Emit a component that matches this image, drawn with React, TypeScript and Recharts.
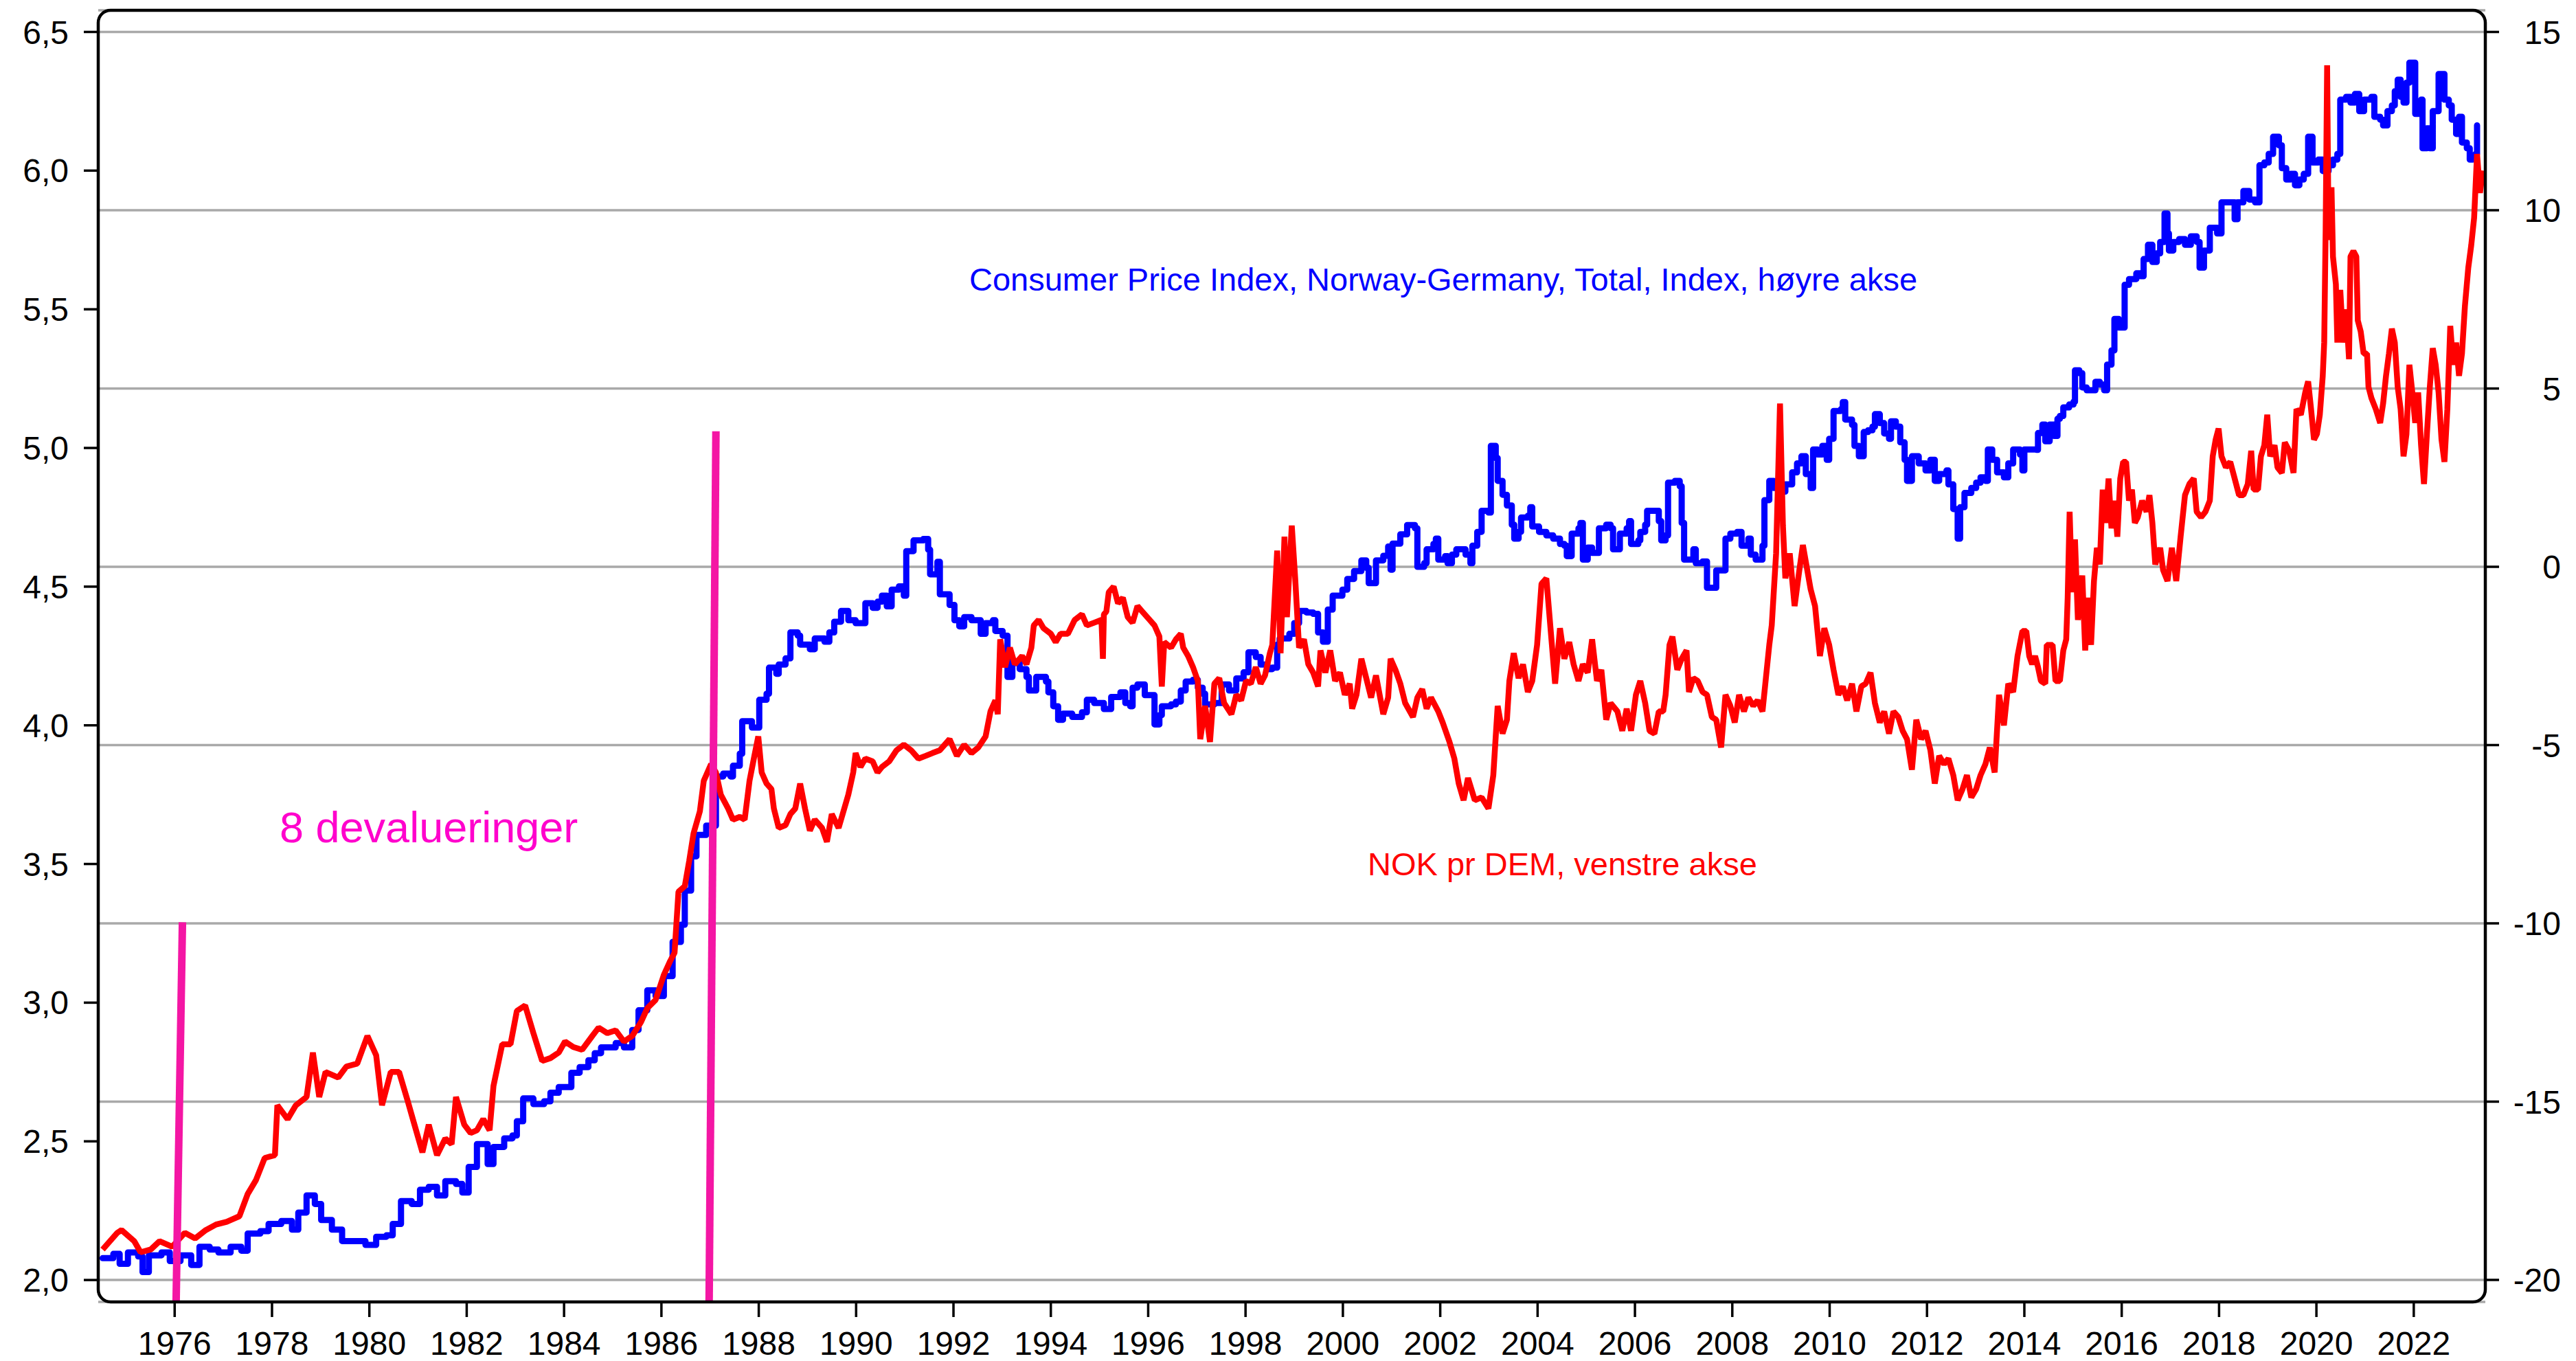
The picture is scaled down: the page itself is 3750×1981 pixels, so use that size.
import React from 'react';
import { LineChart, Line, XAxis, YAxis, CartesianGrid, ReferenceLine } from 'recharts';

const W = 3750;
const H = 1981;
const FONT = '"Liberation Sans", Arial, Helvetica, sans-serif';

// NOK per DEM, left axis: [year, value]
const NOK_PER_DEM: [number, number][] = [
  [1974.52, 2.11], [1974.82, 2.17], [1974.91, 2.18], [1975.17, 2.14], [1975.30, 2.10], [1975.51, 2.11],
  [1975.69, 2.14], [1975.95, 2.12], [1976.21, 2.17], [1976.42, 2.15], [1976.64, 2.18], [1976.85, 2.20],
  [1977.07, 2.21], [1977.33, 2.23], [1977.50, 2.31], [1977.67, 2.36], [1977.85, 2.44], [1978.06, 2.45],
  [1978.11, 2.63], [1978.32, 2.58], [1978.49, 2.63], [1978.71, 2.66], [1978.84, 2.82], [1978.97, 2.66],
  [1979.10, 2.75], [1979.36, 2.73], [1979.53, 2.77], [1979.75, 2.78], [1979.96, 2.88], [1980.14, 2.81],
  [1980.26, 2.63], [1980.44, 2.75], [1980.61, 2.75], [1980.78, 2.65], [1980.91, 2.57], [1981.09, 2.46],
  [1981.22, 2.56], [1981.39, 2.45], [1981.56, 2.51], [1981.69, 2.49], [1981.78, 2.66], [1981.95, 2.56],
  [1982.08, 2.53], [1982.21, 2.54], [1982.34, 2.58], [1982.47, 2.54], [1982.55, 2.70], [1982.73, 2.85],
  [1982.90, 2.85], [1983.03, 2.97], [1983.20, 2.99], [1983.37, 2.89], [1983.55, 2.79], [1983.72, 2.80],
  [1983.89, 2.82], [1984.02, 2.86], [1984.19, 2.84], [1984.37, 2.83], [1984.58, 2.88], [1984.71, 2.91],
  [1984.89, 2.89], [1985.06, 2.90], [1985.23, 2.86], [1985.40, 2.88], [1985.58, 2.93], [1985.71, 2.98],
  [1985.88, 3.01], [1986.05, 3.10], [1986.18, 3.15], [1986.27, 3.18], [1986.35, 3.40], [1986.48, 3.42],
  [1986.57, 3.51], [1986.66, 3.61], [1986.79, 3.69], [1986.87, 3.80], [1987.02, 3.86], [1987.12, 3.83],
  [1987.22, 3.75], [1987.37, 3.70], [1987.47, 3.66], [1987.61, 3.67], [1987.71, 3.66], [1987.81, 3.80],
  [1987.91, 3.89], [1987.99, 3.96], [1988.06, 3.83], [1988.16, 3.79], [1988.26, 3.77], [1988.31, 3.70],
  [1988.41, 3.63], [1988.55, 3.64], [1988.65, 3.68], [1988.75, 3.70], [1988.85, 3.79], [1988.95, 3.70],
  [1989.05, 3.62], [1989.15, 3.66], [1989.30, 3.63], [1989.40, 3.58], [1989.50, 3.68], [1989.64, 3.63],
  [1989.74, 3.69], [1989.84, 3.75], [1989.94, 3.83], [1989.99, 3.90], [1990.09, 3.85], [1990.19, 3.88],
  [1990.34, 3.87], [1990.44, 3.83], [1990.53, 3.85], [1990.68, 3.87], [1990.83, 3.91], [1990.98, 3.93],
  [1991.13, 3.91], [1991.28, 3.88], [1991.43, 3.89], [1991.57, 3.90], [1991.72, 3.91], [1991.92, 3.95],
  [1992.07, 3.89], [1992.22, 3.93], [1992.37, 3.90], [1992.51, 3.92], [1992.66, 3.96], [1992.76, 4.05],
  [1992.86, 4.09], [1992.91, 4.04], [1992.96, 4.31], [1993.06, 4.21], [1993.16, 4.28], [1993.26, 4.22],
  [1993.41, 4.25], [1993.50, 4.22], [1993.60, 4.28], [1993.65, 4.36], [1993.75, 4.38], [1993.85, 4.35],
  [1994.00, 4.33], [1994.10, 4.30], [1994.20, 4.33], [1994.35, 4.33], [1994.49, 4.38], [1994.64, 4.40],
  [1994.74, 4.36], [1994.89, 4.37], [1995.04, 4.38], [1995.07, 4.24], [1995.09, 4.40], [1995.14, 4.41],
  [1995.19, 4.48], [1995.29, 4.50], [1995.38, 4.44], [1995.48, 4.46], [1995.58, 4.39], [1995.68, 4.37],
  [1995.78, 4.43], [1995.88, 4.41], [1996.03, 4.38], [1996.13, 4.36], [1996.23, 4.32], [1996.28, 4.14],
  [1996.33, 4.30], [1996.47, 4.28], [1996.57, 4.31], [1996.67, 4.33], [1996.72, 4.28], [1996.82, 4.25],
  [1996.92, 4.21], [1997.02, 4.16], [1997.07, 3.95], [1997.17, 4.07], [1997.27, 3.94], [1997.36, 4.15],
  [1997.46, 4.17], [1997.56, 4.08], [1997.71, 4.04], [1997.81, 4.11], [1997.91, 4.09], [1998.01, 4.16],
  [1998.11, 4.15], [1998.21, 4.21], [1998.31, 4.15], [1998.40, 4.18], [1998.50, 4.26], [1998.55, 4.29],
  [1998.65, 4.63], [1998.72, 4.26], [1998.80, 4.68], [1998.85, 4.39], [1998.95, 4.72], [1999.02, 4.53],
  [1999.10, 4.28], [1999.20, 4.31], [1999.29, 4.22], [1999.39, 4.19], [1999.49, 4.14], [1999.54, 4.27],
  [1999.64, 4.19], [1999.74, 4.27], [1999.84, 4.16], [1999.94, 4.19], [2000.04, 4.11], [2000.14, 4.15],
  [2000.19, 4.06], [2000.28, 4.11], [2000.38, 4.24], [2000.48, 4.17], [2000.58, 4.10], [2000.68, 4.18],
  [2000.83, 4.04], [2000.93, 4.10], [2000.98, 4.24], [2001.08, 4.20], [2001.18, 4.15], [2001.28, 4.08],
  [2001.44, 4.03], [2001.53, 4.10], [2001.63, 4.13], [2001.72, 4.06], [2001.81, 4.10], [2001.96, 4.05],
  [2002.05, 4.01], [2002.19, 3.94], [2002.29, 3.88], [2002.38, 3.79], [2002.48, 3.73], [2002.57, 3.81],
  [2002.71, 3.73], [2002.85, 3.74], [2002.99, 3.70], [2003.09, 3.82], [2003.14, 3.96], [2003.18, 4.07],
  [2003.28, 3.97], [2003.37, 4.02], [2003.42, 4.16], [2003.51, 4.26], [2003.61, 4.17], [2003.70, 4.22],
  [2003.80, 4.12], [2003.89, 4.16], [2003.99, 4.29], [2004.08, 4.51], [2004.18, 4.53], [2004.27, 4.34],
  [2004.36, 4.15], [2004.46, 4.35], [2004.55, 4.24], [2004.65, 4.30], [2004.74, 4.22], [2004.84, 4.16],
  [2004.93, 4.22], [2005.03, 4.19], [2005.12, 4.31], [2005.22, 4.16], [2005.31, 4.20], [2005.41, 4.02],
  [2005.50, 4.08], [2005.64, 4.05], [2005.74, 3.98], [2005.83, 4.06], [2005.92, 3.98], [2006.02, 4.11],
  [2006.11, 4.16], [2006.21, 4.08], [2006.30, 3.98], [2006.40, 3.97], [2006.49, 4.05], [2006.58, 4.05],
  [2006.63, 4.11], [2006.71, 4.29], [2006.77, 4.32], [2006.87, 4.20], [2006.96, 4.24], [2007.06, 4.27],
  [2007.11, 4.12], [2007.20, 4.17], [2007.29, 4.16], [2007.39, 4.12], [2007.48, 4.11], [2007.58, 4.03],
  [2007.67, 4.02], [2007.77, 3.92], [2007.86, 4.11], [2007.96, 4.07], [2008.05, 4.01], [2008.14, 4.11],
  [2008.24, 4.05], [2008.33, 4.10], [2008.43, 4.07], [2008.52, 4.09], [2008.62, 4.05], [2008.69, 4.17],
  [2008.76, 4.29], [2008.81, 4.36], [2008.90, 4.62], [2008.98, 5.16], [2009.04, 4.72], [2009.09, 4.53],
  [2009.18, 4.62], [2009.28, 4.43], [2009.37, 4.55], [2009.45, 4.65], [2009.51, 4.59], [2009.61, 4.49],
  [2009.70, 4.43], [2009.80, 4.25], [2009.89, 4.35], [2009.99, 4.29], [2010.08, 4.20], [2010.18, 4.11],
  [2010.27, 4.14], [2010.36, 4.09], [2010.46, 4.15], [2010.55, 4.05], [2010.65, 4.14], [2010.74, 4.15],
  [2010.84, 4.19], [2010.93, 4.08], [2011.03, 4.01], [2011.12, 4.05], [2011.22, 3.97], [2011.31, 4.05],
  [2011.41, 4.03], [2011.50, 3.98], [2011.59, 3.95], [2011.69, 3.84], [2011.78, 4.02], [2011.88, 3.95],
  [2011.97, 3.98], [2012.07, 3.91], [2012.16, 3.79], [2012.25, 3.89], [2012.35, 3.86], [2012.44, 3.88],
  [2012.54, 3.82], [2012.63, 3.73], [2012.73, 3.77], [2012.82, 3.82], [2012.91, 3.74], [2013.01, 3.77],
  [2013.10, 3.82], [2013.20, 3.86], [2013.29, 3.92], [2013.39, 3.83], [2013.48, 4.11], [2013.58, 4.00],
  [2013.67, 4.15], [2013.77, 4.12], [2013.86, 4.25], [2013.96, 4.34], [2014.04, 4.34], [2014.10, 4.25],
  [2014.16, 4.22], [2014.22, 4.25], [2014.28, 4.21], [2014.34, 4.16], [2014.43, 4.15], [2014.46, 4.29],
  [2014.58, 4.29], [2014.64, 4.16], [2014.73, 4.16], [2014.80, 4.27], [2014.86, 4.31], [2014.89, 4.46],
  [2014.93, 4.77], [2014.98, 4.48], [2015.04, 4.67], [2015.10, 4.38], [2015.19, 4.54], [2015.25, 4.27],
  [2015.31, 4.46], [2015.37, 4.29], [2015.43, 4.52], [2015.49, 4.64], [2015.55, 4.58], [2015.61, 4.85],
  [2015.67, 4.73], [2015.73, 4.89], [2015.79, 4.71], [2015.85, 4.81], [2015.91, 4.68], [2015.97, 4.89],
  [2016.03, 4.95], [2016.09, 4.95], [2016.15, 4.81], [2016.21, 4.85], [2016.27, 4.73], [2016.33, 4.75],
  [2016.42, 4.81], [2016.51, 4.77], [2016.57, 4.83], [2016.63, 4.73], [2016.69, 4.58], [2016.79, 4.64],
  [2016.85, 4.56], [2016.94, 4.52], [2017.03, 4.64], [2017.12, 4.52], [2017.21, 4.68], [2017.30, 4.83],
  [2017.39, 4.87], [2017.48, 4.89], [2017.54, 4.77], [2017.63, 4.75], [2017.72, 4.77], [2017.81, 4.81],
  [2017.87, 4.97], [2017.93, 5.03], [2017.99, 5.07], [2018.05, 4.97], [2018.14, 4.93], [2018.23, 4.95],
  [2018.32, 4.89], [2018.41, 4.83], [2018.50, 4.83], [2018.59, 4.87], [2018.66, 4.99], [2018.71, 4.85],
  [2018.80, 4.85], [2018.86, 4.97], [2018.93, 5.01], [2018.99, 5.12], [2019.05, 4.97], [2019.14, 5.01],
  [2019.20, 4.93], [2019.29, 4.91], [2019.35, 5.02], [2019.44, 4.99], [2019.53, 4.91], [2019.59, 5.14],
  [2019.68, 5.12], [2019.77, 5.20], [2019.83, 5.24], [2019.89, 5.14], [2019.95, 5.03], [2020.01, 5.05],
  [2020.07, 5.12], [2020.13, 5.26], [2020.16, 5.38], [2020.19, 5.79], [2020.22, 6.38], [2020.25, 5.75],
  [2020.31, 5.94], [2020.34, 5.69], [2020.40, 5.59], [2020.43, 5.38], [2020.49, 5.57], [2020.55, 5.38],
  [2020.61, 5.50], [2020.67, 5.32], [2020.70, 5.69], [2020.76, 5.71], [2020.82, 5.69], [2020.85, 5.46],
  [2020.91, 5.42], [2020.97, 5.34], [2021.04, 5.34], [2021.07, 5.22], [2021.13, 5.18], [2021.22, 5.14],
  [2021.31, 5.09], [2021.37, 5.16], [2021.43, 5.26], [2021.49, 5.34], [2021.55, 5.43], [2021.61, 5.38],
  [2021.67, 5.22], [2021.73, 5.14], [2021.79, 4.97], [2021.85, 5.05], [2021.91, 5.30], [2021.97, 5.20],
  [2022.03, 5.09], [2022.09, 5.20], [2022.15, 5.01], [2022.21, 4.87], [2022.27, 5.05], [2022.33, 5.22],
  [2022.39, 5.36], [2022.45, 5.30], [2022.51, 5.20], [2022.57, 5.03], [2022.63, 4.95], [2022.69, 5.14],
  [2022.75, 5.44], [2022.81, 5.30], [2022.87, 5.38], [2022.93, 5.26], [2022.99, 5.34], [2023.05, 5.51],
  [2023.12, 5.65], [2023.18, 5.73], [2023.24, 5.83], [2023.30, 6.06], [2023.36, 5.92], [2023.42, 6.00],
];

// Consumer Price Index Norway-Germany, right axis: [year, value]
const CPI_NO_DE: [number, number][] = [
  [1974.52, -19.39], [1974.74, -19.27], [1974.87, -19.55], [1975.04, -19.23], [1975.25, -19.34], [1975.34, -19.78],
  [1975.47, -19.31], [1975.73, -19.23], [1975.90, -19.47], [1976.12, -19.31], [1976.34, -19.58], [1976.51, -19.07],
  [1976.72, -19.15], [1976.90, -19.23], [1977.15, -19.07], [1977.37, -19.18], [1977.50, -18.70], [1977.76, -18.63],
  [1977.93, -18.43], [1978.19, -18.35], [1978.41, -18.59], [1978.54, -18.11], [1978.71, -17.63], [1978.88, -17.87],
  [1979.01, -18.32], [1979.23, -18.59], [1979.44, -18.91], [1979.75, -18.91], [1979.92, -19.02], [1980.14, -18.79],
  [1980.35, -18.75], [1980.48, -18.43], [1980.65, -17.79], [1980.87, -17.87], [1981.04, -17.47], [1981.22, -17.39],
  [1981.39, -17.63], [1981.56, -17.23], [1981.78, -17.31], [1981.91, -17.55], [1982.04, -16.83], [1982.21, -16.19],
  [1982.43, -16.75], [1982.55, -16.27], [1982.77, -16.03], [1982.94, -15.95], [1983.03, -15.55], [1983.16, -14.91],
  [1983.37, -15.07], [1983.59, -14.99], [1983.72, -14.75], [1983.89, -14.59], [1984.15, -14.19], [1984.32, -14.03],
  [1984.50, -13.84], [1984.63, -13.64], [1984.76, -13.48], [1985.06, -13.36], [1985.23, -13.48], [1985.40, -12.99],
  [1985.53, -12.44], [1985.71, -11.88], [1985.88, -12.04], [1986.05, -11.48], [1986.23, -10.52], [1986.40, -10.04],
  [1986.48, -9.08], [1986.61, -8.12], [1986.72, -7.52], [1986.92, -7.26], [1987.12, -5.88], [1987.27, -5.80],
  [1987.42, -5.88], [1987.47, -5.58], [1987.61, -5.24], [1987.66, -4.33], [1987.86, -4.51], [1988.01, -3.73],
  [1988.16, -3.56], [1988.21, -2.83], [1988.36, -3.00], [1988.41, -2.74], [1988.55, -2.57], [1988.65, -1.84],
  [1988.80, -1.93], [1988.85, -2.18], [1989.05, -2.31], [1989.15, -2.01], [1989.35, -2.10], [1989.45, -1.84],
  [1989.55, -1.54], [1989.69, -1.24], [1989.84, -1.50], [1989.99, -1.58], [1990.19, -1.02], [1990.34, -1.15],
  [1990.44, -0.98], [1990.53, -0.81], [1990.63, -1.11], [1990.73, -0.64], [1990.88, -0.55], [1990.98, -0.81],
  [1991.03, 0.44], [1991.18, 0.74], [1991.38, 0.78], [1991.48, 0.48], [1991.52, -0.21], [1991.67, 0.14],
  [1991.72, -0.77], [1991.92, -1.07], [1992.02, -1.50], [1992.12, -1.67], [1992.22, -1.41], [1992.37, -1.50],
  [1992.56, -1.88], [1992.66, -1.58], [1992.81, -1.50], [1992.86, -1.80], [1993.01, -1.93], [1993.11, -3.09],
  [1993.21, -2.70], [1993.36, -2.87], [1993.50, -3.09], [1993.55, -3.47], [1993.70, -3.09], [1993.90, -3.22],
  [1993.95, -3.52], [1994.05, -3.91], [1994.15, -4.29], [1994.25, -4.12], [1994.44, -4.21], [1994.64, -4.08],
  [1994.74, -3.73], [1994.89, -3.82], [1995.09, -3.99], [1995.24, -3.65], [1995.43, -3.52], [1995.53, -3.82],
  [1995.63, -3.91], [1995.68, -3.39], [1995.78, -3.30], [1995.93, -3.60], [1996.13, -4.42], [1996.23, -4.16],
  [1996.28, -3.91], [1996.47, -3.86], [1996.57, -3.78], [1996.67, -3.47], [1996.77, -3.22], [1996.92, -3.17],
  [1997.02, -3.39], [1997.12, -3.56], [1997.17, -3.86], [1997.36, -3.82], [1997.51, -3.30], [1997.66, -3.47],
  [1997.81, -3.13], [1997.96, -2.96], [1998.06, -2.40], [1998.21, -2.53], [1998.31, -2.74], [1998.45, -2.87],
  [1998.55, -2.83], [1998.65, -2.18], [1998.70, -2.01], [1998.90, -1.88], [1999.00, -1.58], [1999.10, -1.24],
  [1999.25, -1.28], [1999.39, -1.32], [1999.49, -1.84], [1999.59, -2.10], [1999.69, -1.20], [1999.79, -0.81],
  [1999.99, -0.64], [2000.09, -0.34], [2000.23, -0.12], [2000.38, 0.18], [2000.48, -0.03], [2000.53, -0.46],
  [2000.68, 0.18], [2000.83, 0.31], [2000.93, 0.57], [2000.98, -0.08], [2001.02, 0.65], [2001.18, 0.91],
  [2001.32, 1.17], [2001.48, 1.08], [2001.53, 0.00], [2001.67, 0.10], [2001.72, 0.49], [2001.86, 0.64],
  [2001.91, 0.79], [2001.96, 0.20], [2002.10, 0.30], [2002.15, 0.10], [2002.24, 0.34], [2002.33, 0.49],
  [2002.48, 0.49], [2002.52, 0.34], [2002.62, 0.10], [2002.66, 0.59], [2002.76, 0.98], [2002.85, 1.57],
  [2002.99, 1.52], [2003.04, 3.39], [2003.14, 3.05], [2003.18, 2.41], [2003.28, 2.02], [2003.37, 1.72],
  [2003.47, 1.18], [2003.52, 0.79], [2003.61, 0.98], [2003.66, 1.38], [2003.80, 1.43], [2003.85, 1.67],
  [2003.89, 1.13], [2004.03, 0.98], [2004.18, 0.88], [2004.32, 0.79], [2004.46, 0.64], [2004.55, 0.59],
  [2004.60, 0.30], [2004.70, 0.93], [2004.84, 1.08], [2004.88, 1.23], [2004.93, 0.20], [2005.03, 0.54],
  [2005.12, 0.39], [2005.22, 0.39], [2005.26, 1.08], [2005.41, 1.18], [2005.50, 1.08], [2005.55, 0.49],
  [2005.64, 0.49], [2005.69, 0.93], [2005.83, 1.08], [2005.88, 1.28], [2005.92, 0.64], [2006.07, 0.74],
  [2006.11, 0.98], [2006.21, 1.18], [2006.25, 1.57], [2006.40, 1.57], [2006.49, 1.28], [2006.54, 0.74],
  [2006.63, 0.88], [2006.68, 2.36], [2006.82, 2.41], [2006.92, 2.26], [2006.96, 1.23], [2007.01, 0.20],
  [2007.15, 0.20], [2007.20, 0.49], [2007.25, 0.10], [2007.39, 0.15], [2007.48, -0.59], [2007.63, -0.59],
  [2007.67, -0.10], [2007.81, -0.10], [2007.86, 0.79], [2007.96, 0.93], [2008.10, 0.98], [2008.19, 0.59],
  [2008.33, 0.79], [2008.38, 0.34], [2008.48, 0.20], [2008.57, 0.20], [2008.62, 0.59], [2008.66, 1.87],
  [2008.76, 2.41], [2008.85, 2.21], [2008.99, 2.11], [2009.09, 2.31], [2009.23, 2.65], [2009.33, 2.90],
  [2009.42, 3.10], [2009.51, 2.60], [2009.61, 2.21], [2009.66, 3.29], [2009.75, 3.15], [2009.85, 3.39],
  [2009.94, 3.00], [2009.99, 3.59], [2010.08, 4.37], [2010.23, 4.42], [2010.27, 4.62], [2010.32, 4.13],
  [2010.46, 3.98], [2010.51, 3.39], [2010.60, 3.10], [2010.70, 3.78], [2010.79, 3.83], [2010.88, 3.93],
  [2010.93, 4.28], [2011.03, 4.03], [2011.12, 3.74], [2011.22, 3.59], [2011.26, 4.08], [2011.36, 3.93],
  [2011.45, 3.49], [2011.54, 3.00], [2011.59, 2.41], [2011.69, 3.10], [2011.83, 2.90], [2011.97, 2.70],
  [2012.07, 3.00], [2012.16, 2.41], [2012.25, 2.60], [2012.40, 2.70], [2012.44, 2.31], [2012.54, 1.62],
  [2012.63, 0.79], [2012.68, 1.67], [2012.77, 2.07], [2012.91, 2.21], [2013.01, 2.36], [2013.10, 2.51],
  [2013.20, 2.41], [2013.25, 3.29], [2013.34, 3.00], [2013.44, 2.65], [2013.58, 2.51], [2013.67, 2.90],
  [2013.77, 3.29], [2013.91, 3.15], [2013.96, 2.70], [2014.00, 3.29], [2014.25, 3.28], [2014.28, 3.75],
  [2014.37, 3.99], [2014.43, 3.52], [2014.52, 3.99], [2014.61, 3.67], [2014.68, 4.15], [2014.73, 4.23],
  [2014.80, 4.47], [2014.92, 4.55], [2015.01, 4.63], [2015.04, 5.51], [2015.13, 5.43], [2015.19, 5.03],
  [2015.28, 4.95], [2015.40, 4.95], [2015.46, 5.19], [2015.55, 5.11], [2015.64, 4.95], [2015.70, 5.67],
  [2015.79, 6.07], [2015.85, 6.95], [2015.94, 6.71], [2016.03, 6.71], [2016.06, 7.91], [2016.15, 8.07],
  [2016.24, 8.07], [2016.30, 8.23], [2016.39, 8.15], [2016.45, 8.63], [2016.54, 9.03], [2016.63, 8.55],
  [2016.72, 8.79], [2016.79, 9.11], [2016.88, 9.91], [2016.94, 9.35], [2016.97, 8.87], [2017.06, 9.11],
  [2017.18, 9.19], [2017.30, 9.03], [2017.42, 9.27], [2017.54, 9.11], [2017.60, 8.39], [2017.69, 8.87],
  [2017.81, 9.51], [2017.96, 9.35], [2018.05, 10.22], [2018.20, 10.22], [2018.32, 9.75], [2018.38, 10.22],
  [2018.50, 10.54], [2018.62, 10.30], [2018.74, 10.22], [2018.83, 11.26], [2018.93, 11.34], [2019.02, 11.58],
  [2019.11, 12.06], [2019.23, 11.82], [2019.29, 11.18], [2019.38, 10.86], [2019.47, 11.02], [2019.56, 10.70],
  [2019.65, 10.86], [2019.74, 11.02], [2019.83, 12.06], [2019.92, 11.34], [2020.04, 11.42], [2020.13, 11.10],
  [2020.25, 11.26], [2020.34, 11.42], [2020.43, 11.58], [2020.49, 13.10], [2020.61, 13.18], [2020.70, 13.02],
  [2020.79, 13.26], [2020.88, 12.78], [2020.98, 13.10], [2021.13, 13.18], [2021.19, 12.62], [2021.31, 12.54],
  [2021.37, 12.38], [2021.46, 12.78], [2021.55, 12.94], [2021.61, 13.34], [2021.67, 13.66], [2021.73, 13.18],
  [2021.79, 13.02], [2021.85, 13.58], [2021.91, 14.14], [2022.00, 14.14], [2022.03, 12.70], [2022.15, 13.10],
  [2022.18, 11.74], [2022.27, 12.30], [2022.33, 11.74], [2022.39, 12.78], [2022.45, 12.78], [2022.51, 13.82],
  [2022.57, 13.82], [2022.63, 13.10], [2022.72, 12.94], [2022.78, 12.54], [2022.87, 12.14], [2022.93, 12.62],
  [2022.99, 11.90], [2023.09, 11.74], [2023.15, 11.42], [2023.21, 11.50], [2023.27, 11.58], [2023.30, 12.38],
];

const YEAR_TICKS = [1976, 1978, 1980, 1982, 1984, 1986, 1988, 1990, 1992, 1994, 1996, 1998, 2000, 2002, 2004, 2006, 2008, 2010, 2012, 2014, 2016, 2018, 2020, 2022];
const LEFT_TICKS = [2.0, 2.5, 3.0, 3.5, 4.0, 4.5, 5.0, 5.5, 6.0, 6.5];
const RIGHT_TICKS = [-20, -15, -10, -5, 0, 5, 10, 15];

const X_DOMAIN: [number, number] = [1974.43, 2023.47];
const LEFT_DOMAIN: [number, number] = [1.921, 6.578];
const RIGHT_DOMAIN: [number, number] = [-20.617, 15.607];

// devaluation markers (left-axis scale): from bottom edge to top
const DEVALUATION_LINES = [
  { x0: 1976.03, x1: 1976.16, top: 3.29 },
  { x0: 1986.98, x1: 1987.12, top: 5.06 },
];

const tickStyle = { fill: '#000', fontSize: 48, fontFamily: FONT };
const tickLineStyle = { stroke: '#000', strokeWidth: 3.5 };

const RightTick = (p: any) => (
  <text x={p.x + 90} y={p.y} dy="0.355em" textAnchor="end" fill="#000" fontSize={48} fontFamily={FONT}>
    {p.payload.value}
  </text>
);

export default function App() {
  const nok = NOK_PER_DEM.map(([x, v]) => ({ x, v }));
  const cpi = CPI_NO_DE.map(([x, v]) => ({ x, v }));

  return (
    <div style={{ position: 'absolute', left: 0, top: 0, width: W, height: H, background: '#fff' }}>
      <LineChart width={W} height={H} margin={{ top: 15, right: 0, bottom: 0, left: 0 }}>
        <CartesianGrid yAxisId="right" vertical={false} stroke="#a9a9a9" strokeWidth={3.5} />
        <XAxis
          type="number" dataKey="x" domain={X_DOMAIN} allowDataOverflow
          ticks={YEAR_TICKS} interval={0} height={86} axisLine={false}
          tickSize={22} tickMargin={21} tickLine={tickLineStyle} tick={tickStyle}
        />
        <YAxis
          yAxisId="left" orientation="left" domain={LEFT_DOMAIN} allowDataOverflow
          ticks={LEFT_TICKS} interval={0} width={143} axisLine={false}
          tickSize={21} tickMargin={22} tickLine={tickLineStyle} tick={tickStyle}
          tickFormatter={(v: number) => v.toFixed(1).replace('.', ',')}
        />
        <YAxis
          yAxisId="right" orientation="right" domain={RIGHT_DOMAIN} allowDataOverflow
          ticks={RIGHT_TICKS} interval={0} width={132} axisLine={false}
          tickSize={20} tickMargin={0} tickLine={tickLineStyle} tick={<RightTick />}
        />
        <Line
          yAxisId="right" data={cpi} dataKey="v" type="stepAfter" stroke="#0000ff"
          strokeWidth={9} strokeLinejoin="round" strokeLinecap="round"
          dot={false} activeDot={false} isAnimationActive={false}
        />
        <Line
          yAxisId="left" data={nok} dataKey="v" type="linear" stroke="#ff0000"
          strokeWidth={8.5} strokeLinejoin="bevel"
          dot={false} activeDot={false} isAnimationActive={false}
        />
        {DEVALUATION_LINES.map((d, i) => (
          <ReferenceLine
            key={i} yAxisId="left" ifOverflow="visible"
            segment={[{ x: d.x0, y: LEFT_DOMAIN[0] }, { x: d.x1, y: d.top }]}
            stroke="#f416a4" strokeWidth={11}
          />
        ))}
      </LineChart>
      <svg width={W} height={H} style={{ position: 'absolute', left: 0, top: 0, pointerEvents: 'none' }}>
        <rect x={143} y={15} width={3475} height={1880} rx={18} ry={18} fill="none" stroke="#000" strokeWidth={4.5} />
        <text x={1411} y={423} fill="#0000ff" fontSize={47} fontFamily={FONT}>
          Consumer Price Index, Norway-Germany, Total, Index, høyre akse
        </text>
        <text x={1991} y={1274} fill="#ff0000" fontSize={47} fontFamily={FONT}>
          NOK pr DEM, venstre akse
        </text>
        <text x={407} y={1226} fill="#ff00cc" fontSize={63} fontFamily={FONT}>
          8 devalueringer
        </text>
      </svg>
    </div>
  );
}
